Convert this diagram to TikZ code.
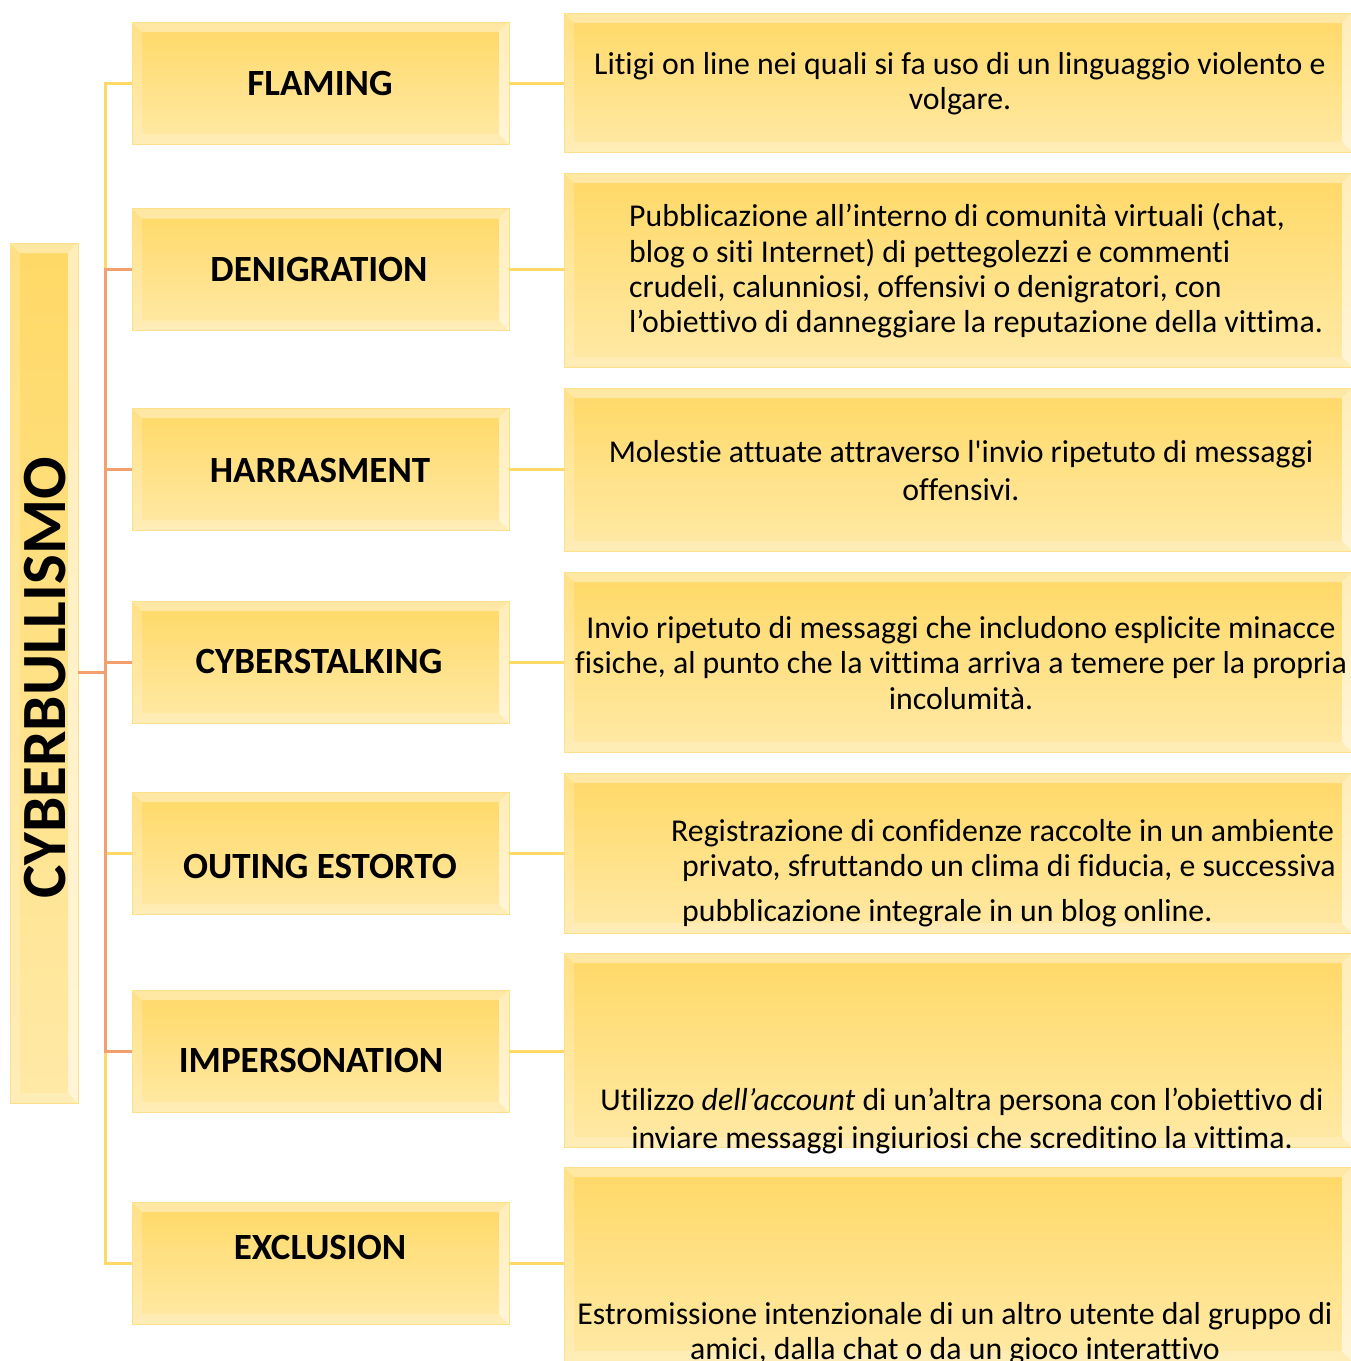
\documentclass[tikz,border=0pt]{standalone}
\usepackage{fontspec}
\setmainfont{Carlito}[Ligatures={NoCommon}]
\usetikzlibrary{calc}
\definecolor{gtop}{HTML}{FFD966}
\definecolor{gbot}{HTML}{FFE9A6}
\definecolor{edge}{HTML}{FFE08A}
\definecolor{lnyel}{HTML}{FFD966}
\definecolor{lnsal}{HTML}{F4A06E}
\newcommand{\bv}{10}
\tikzset{
  bevelbox/.style={rectangle, inner sep=0pt, draw=edge, line width=0.8pt,
    top color=gtop, bottom color=gbot,
    path picture={
      \path (path picture bounding box.north west) coordinate (A)
            (path picture bounding box.north east) coordinate (B)
            (path picture bounding box.south east) coordinate (C)
            (path picture bounding box.south west) coordinate (D);
      \fill[white, fill opacity=0.4] (A) -- (B) -- ($(B)+(-\bv,\bv)$) -- ($(A)+(\bv,\bv)$) -- cycle;
      \fill[white, fill opacity=0.2] (A) -- ($(A)+(\bv,\bv)$) -- ($(D)+(\bv,-\bv)$) -- (D) -- cycle;
      \fill[white, fill opacity=0.55] (B) -- ($(B)+(-\bv,\bv)$) -- ($(C)+(-\bv,-\bv)$) -- (C) -- cycle;
      \fill[white, fill opacity=0.2] (D) -- ($(D)+(\bv,-\bv)$) -- ($(C)+(-\bv,-\bv)$) -- (C) -- cycle;
    }},
  lbox/.style={bevelbox, minimum width=377pt, minimum height=122pt},
  rbox/.style={bevelbox, minimum width=788pt},
  title/.style={font=\fontsize{37}{42}\selectfont\bfseries, text=black},
  desc/.style={font=\fontsize{31.8}{35.3}\selectfont, text=black, inner sep=0pt},
  conn/.style={line width=3pt},
}
\begin{document}
\begin{tikzpicture}[x=1pt, y=-1pt]
\useasboundingbox (0,0) rectangle (1351,1361);
\clip (0,0) rectangle (1351,1361);

% root
\node[bevelbox, minimum width=68pt, minimum height=860pt] (root) at (44,673) {};
\node[title, font=\fontsize{63}{66}\selectfont\bfseries, rotate=90] (roott) at (45,678) {CYBERBULLISMO};

% left boxes
\node[lbox] (b1) at (320.5,83) {};
\node[lbox] (b2) at (320.5,269.5) {};
\node[lbox] (b3) at (320.5,469) {};
\node[lbox] (b4) at (320.5,662) {};
\node[lbox] (b5) at (320.5,853) {};
\node[lbox] (b6) at (320.5,1051) {};
\node[lbox] (b7) at (320.5,1263) {};

\node[title] (t1) at (320,83) {FLAMING};
\node[title] (t2) at (319,269) {DENIGRATION};
\node[title] (t3) at (320,470) {HARRASMENT};
\node[title] (t4) at (319,661) {CYBERSTALKING};
\node[title] (t5) at (320,866) {OUTING ESTORTO};
\node[title] (t6) at (311,1060) {IMPERSONATION};
\node[title] (t7) at (320,1247) {EXCLUSION};

% right boxes
\node[rbox, minimum height=139pt] (r1) at (958,82.5) {};
\node[rbox, minimum height=194pt] (r2) at (958,270) {};
\node[rbox, minimum height=163pt] (r3) at (958,469.5) {};
\node[rbox, minimum height=180pt] (r4) at (958,662) {};
\node[rbox, minimum height=160pt] (r5) at (958,853) {};
\node[rbox, minimum height=194pt] (r6) at (958,1050) {};
\node[rbox, minimum height=194pt] (r7) at (958,1264) {};

% descriptions
\node[desc, align=center] (d1) at (960,83.5) {Litigi on line nei quali si fa uso di un linguaggio violento e\\volgare.};
\node[desc, align=left, anchor=west] (d2) at (629,271) {Pubblicazione all’interno di comunità virtuali (chat,\\blog o siti Internet) di pettegolezzi e commenti\\crudeli, calunniosi, offensivi o denigratori, con\\l’obiettivo di danneggiare la reputazione della vittima.};
\node[desc, align=center, font=\fontsize{31.8}{38}\selectfont] (d3) at (961,471) {Molestie attuate attraverso l\textquotesingle invio ripetuto di messaggi\\offensivi.};
\node[desc, align=center, font=\fontsize{31.8}{35.5}\selectfont] (d4) at (961,663) {Invio ripetuto di messaggi che includono esplicite minacce\\fisiche, al punto che la vittima arriva a temere per la propria\\incolumità.};
\node[desc, align=left, anchor=west] (d5) at (682,873) {\hspace*{-11pt}Registrazione di confidenze raccolte in un ambiente\\privato, sfruttando un clima di fiducia, e successiva\\[10pt]pubblicazione integrale in un blog online.};
\node[desc, align=center, font=\fontsize{31.8}{38}\selectfont] (d6) at (962,1121) {Utilizzo \textit{dell’account} di un’altra persona con l’obiettivo di\\inviare messaggi ingiuriosi che screditino la vittima.};
\node[desc, align=center] (d7) at (955,1333.5) {Estromissione intenzionale di un altro utente dal gruppo di\\amici, dalla chat o da un gioco interattivo};

% tree connectors
\coordinate (trunk) at (105,672);
\draw[conn, lnyel] (root.east |- trunk) -- (trunk) |- (b1.west);
\draw[conn, lnyel] (root.east |- trunk) -- (trunk) |- (b5.west);
\draw[conn, lnyel] (root.east |- trunk) -- (trunk) |- (b7.west);
\draw[conn, lnsal] (root.east |- trunk) -- (trunk) |- (b2.west);
\draw[conn, lnsal] (root.east |- trunk) -- (trunk) |- (b3.west);
\draw[conn, lnsal] (root.east |- trunk) -- (trunk) |- (b4.west);
\draw[conn, lnsal] (root.east |- trunk) -- (trunk) |- (b6.west);

% right connectors
\draw[conn, lnyel] (b1.east) -- (b1.east -| r1.west);
\draw[conn, lnyel] (b2.east) -- (b2.east -| r2.west);
\draw[conn, lnyel] (b3.east) -- (b3.east -| r3.west);
\draw[conn, lnyel] (b4.east) -- (b4.east -| r4.west);
\draw[conn, lnyel] (b5.east) -- (b5.east -| r5.west);
\draw[conn, lnyel] (b6.east) -- (b6.east -| r6.west);
\draw[conn, lnyel] (b7.east) -- (b7.east -| r7.west);
\end{tikzpicture}
\end{document}
